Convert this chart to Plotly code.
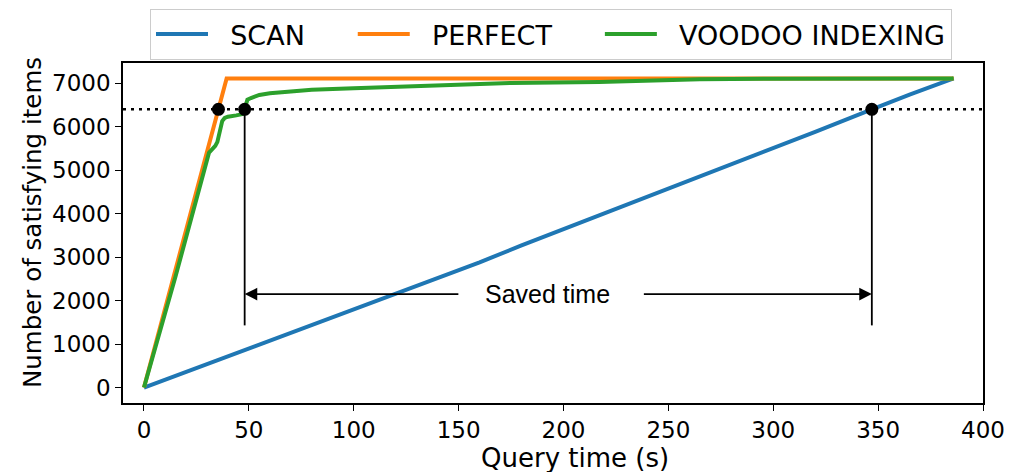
import plotly.graph_objects as go

# Query progress: satisfying items found over elapsed query time
scan_t = [0, 20, 40, 60, 80, 100, 120, 140, 160, 180, 200, 220, 240, 260, 280, 300, 320, 347, 365, 386]
scan_v = [0, 360, 730, 1100, 1440, 1810, 2160, 2520, 2880, 3270, 3640, 4010, 4380, 4760, 5130,
          5500, 5880, 6400, 6740, 7110]

perfect_t = [0, 39.4, 386]
perfect_v = [0, 7110, 7110]

voodoo_t = [0, 15, 31, 32.6, 34, 35, 36, 37.3, 38.5, 40, 44, 47, 48, 49.3, 51, 55, 60, 67, 80,
            100, 130, 150, 175, 217, 265, 300, 386]
voodoo_v = [0, 2550, 5400, 5480, 5560, 5650, 5900, 6130, 6200, 6230, 6260, 6290, 6400, 6620, 6660,
            6730, 6770, 6805, 6850, 6885, 6930, 6960, 7005, 7030, 7090, 7105, 7110]

# 90% threshold and the time each strategy needs to reach it
threshold = 6400
reach_t = [35.5, 48, 347]
reach_v = [threshold, threshold, threshold]

# "Saved time" bracket
bracket_bottom = 1430
arrow_y = 2150
label_t = 192.6
label_half_gap = 42

x_ticks = [0, 50, 100, 150, 200, 250, 300, 350, 400]
y_ticks = [0, 1000, 2000, 3000, 4000, 5000, 6000, 7000]

BLUE, ORANGE, GREEN = "#1f77b4", "#ff7f0e", "#2ca02c"
FONT = "DejaVu Sans"
NB = "\u00a0"  # non-breaking space for legend padding

fig = go.Figure()
fig.add_trace(go.Scatter(x=scan_t, y=scan_v, mode="lines", name=NB * 2 + "SCAN" + NB * 5,
                         line=dict(color=BLUE, width=4)))
fig.add_trace(go.Scatter(x=perfect_t, y=perfect_v, mode="lines", name=NB * 2 + "PERFECT" + NB * 5,
                         line=dict(color=ORANGE, width=4)))
fig.add_trace(go.Scatter(x=voodoo_t, y=voodoo_v, mode="lines", name=NB * 2 + "VOODOO INDEXING",
                         line=dict(color=GREEN, width=4)))

# dotted threshold line across the whole axis
fig.add_shape(type="line", xref="paper", x0=0, x1=1, yref="y", y0=threshold, y1=threshold,
              line=dict(color="black", width=2.5, dash="3px,5px"))

# vertical drops from the voodoo and scan threshold points
for t in reach_t[1:]:
    fig.add_shape(type="line", xref="x", yref="y", x0=t, x1=t, y0=bracket_bottom, y1=threshold,
                  line=dict(color="black", width=1.8))

fig.add_trace(go.Scatter(x=reach_t, y=reach_v, mode="markers", showlegend=False,
                         marker=dict(color="black", size=13)))

# arrows pointing out from the label to both drops
for head, tail in [(reach_t[1], label_t - label_half_gap), (reach_t[2], label_t + label_half_gap + 3)]:
    fig.add_annotation(x=head, y=arrow_y, ax=tail, ay=arrow_y, xref="x", yref="y",
                       axref="x", ayref="y", text="", showarrow=True,
                       arrowhead=2, arrowsize=1.4, arrowwidth=1.8, arrowcolor="black")

fig.add_annotation(x=label_t, y=arrow_y, xref="x", yref="y", text="Saved time",
                   showarrow=False, font=dict(family="Liberation Sans", size=25, color="black"))

# axis titles
fig.add_annotation(x=575, y=458, xref="paper", yref="paper", text="Query time (s)",
                   showarrow=False, xanchor="center", yanchor="middle",
                   font=dict(family=FONT, size=26, color="black"))
fig.add_annotation(x=32, y=223, text="Number of satisfying items", textangle=-90,
                   showarrow=False, xanchor="center", yanchor="middle",
                   font=dict(family=FONT, size=24.5, color="black"))

axis_common = dict(showgrid=False, zeroline=False, showline=True, linecolor="black",
                   linewidth=1.6, mirror=True, ticks="outside", ticklen=6, tickwidth=1.4,
                   tickcolor="black", automargin=False,
                   tickfont=dict(family=FONT, size=23, color="black"))

fig.update_xaxes(range=[-10, 400], tickvals=x_ticks, **axis_common)
fig.update_yaxes(range=[-355, 7465], tickvals=y_ticks, **axis_common)

W, H = 1010, 472
L, R, T, B = 123, 27, 63, 69

# convert the two title annotations from pixel to paper coordinates
for ann in fig.layout.annotations[-2:]:
    ann.xref, ann.yref = "paper", "paper"
    ann.x = (ann.x - L) / (W - L - R)
    ann.y = (H - B - ann.y) / (H - T - B)

fig.update_layout(
    width=W, height=H,
    margin=dict(l=L, r=R, t=T, b=B, autoexpand=False),
    plot_bgcolor="white", paper_bgcolor="white",
    legend=dict(orientation="h", x=(551 - L) / (W - L - R), xanchor="center",
                y=(H - B - 9) / (H - T - B), yanchor="top",
                font=dict(family=FONT, size=27, color="black"),
                bordercolor="#cccccc", borderwidth=1, bgcolor="white",
                itemwidth=52),
)

fig.write_html("out.html")
